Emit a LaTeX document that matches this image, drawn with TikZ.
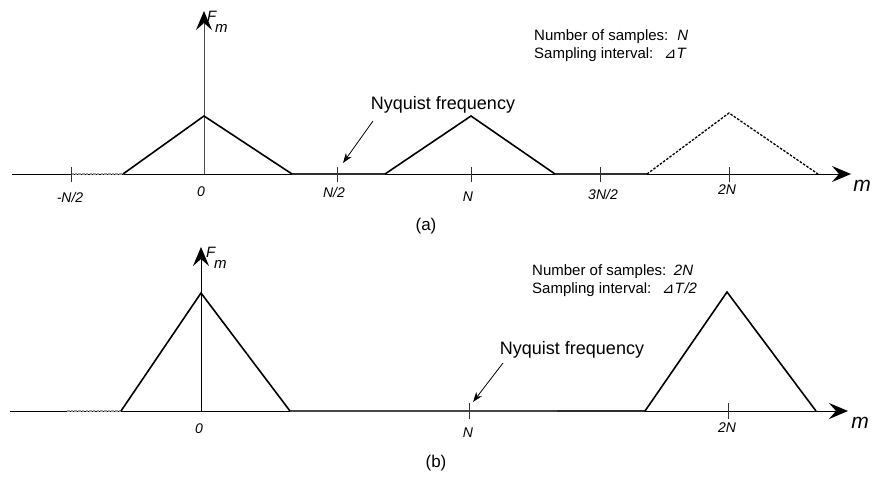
\documentclass[tikz,border=0pt]{standalone}
\usepackage{fontspec}
\setmainfont{Liberation Sans}
\newfontfamily\dvs{DejaVu Sans}
\usetikzlibrary{arrows.meta}
\newcommand{\dT}{{\dvs\itshape ⊿}\textit{T}}
\tikzset{
  bigtip/.style={-{Stealth[length=19pt,width=16pt,inset=7pt,color=black,fill=black]}},
  axisline/.style={line width=1pt, bigtip},
  vaxis/.style={line width=1pt, draw=black!70, bigtip},
  tri/.style={line width=1.6pt, line join=miter},
  dtri/.style={line width=1.3pt, dash pattern=on 2.5pt off 1.5pt},
  flatseg/.style={line width=2pt, draw=black!82},
  gdash/.style={line width=1.8pt, draw=black!40, dash pattern=on 2.5pt off 1.2pt},
  tickmark/.style={line width=1pt, draw=black!80},
  tlab/.style={font=\fontsize{14}{16}\selectfont\itshape, inner sep=0pt},
  infotxt/.style={font=\fontsize{15}{18}\selectfont, inner sep=0pt, align=left, anchor=north west},
  nyq/.style={font=\fontsize{18}{20}\selectfont, inner sep=0pt},
  captxt/.style={font=\fontsize{17}{20}\selectfont, inner sep=0pt},
  marr/.style={line width=0.8pt, -{Stealth[length=10pt,width=7pt]}},
  flab/.style={font=\fontsize{15}{16}\selectfont\itshape, anchor=west, inner sep=0pt},
  mlab/.style={font=\fontsize{21}{22}\selectfont\itshape, inner sep=0pt},
}
\begin{document}
\begin{tikzpicture}[x=1pt,y=-1pt]
\useasboundingbox (0,0) rectangle (872,490);
% ---------------- panel (a)
\coordinate (aL) at (12,174);
\coordinate (aR) at (851,174);
\coordinate (aO) at (204,174);
\coordinate (aT) at (204,11);
\draw[axisline] (aL) -- (aR);
\draw[gdash] (71,174) -- (123,174);
\draw[flatseg] (292,174) -- (385,174);
\draw[flatseg] (555,174) -- (647,174);
\draw[vaxis] (aO) -- (aT);
\node[flab] (aF) at (207,16) {F};
\node[flab] (aFm) at (215,28) {m};
\foreach \x in {71,337,471,600,729}{\draw[tickmark] (\x,167) -- (\x,182);}
\draw[tri] (123,174) -- (204,116) -- (292,174);
\draw[tri] (385,174) -- (471,116) -- (555,174);
\draw[dtri] (647,174) -- (729,113) -- (818,174);
\node[tlab] (lmh) at (70,197) {-N/2};
\node[tlab] (l0a) at (201,192) {0};
\node[tlab] (lh) at (334,192) {N/2};
\node[tlab] (lN) at (468,197) {N};
\node[tlab] (l3h) at (603,194) {3N/2};
\node[tlab] (l2N) at (727,190) {2N};
\node[mlab] (lm) at (862,186) {m};
\node[nyq] (nyqa) at (443,105) {Nyquist frequency};
\coordinate (nyqaS) at (373,121);
\coordinate (nyqaE) at (343,163);
\draw[marr] (nyqaS) -- (nyqaE);
\node[infotxt] (infoa) at (534,29) {Number of samples:\hspace{0.6em}\textit{N}\\Sampling interval:\hspace{0.7em}\dT};
\node[captxt] (capa) at (426,226) {(a)};
% ---------------- panel (b)
\coordinate (bL) at (10,411);
\coordinate (bR) at (848,411);
\coordinate (bO) at (201,411);
\coordinate (bT) at (201,247);
\draw[axisline] (bL) -- (bR);
\draw[gdash] (67,411) -- (121,411);
\draw[flatseg, draw=black!72] (290,411) -- (557,411);
\draw[flatseg] (557,411) -- (645,411);
\draw[axisline] (bO) -- (bT);
\node[flab] (bF) at (206,252) {F};
\node[flab] (bFm) at (214,264) {m};
\foreach \x in {469,728}{\draw[tickmark] (\x,403) -- (\x,419);}
\draw[tri] (121,411) -- (201,293) -- (290,411);
\draw[tri] (645,411) -- (727,292) -- (816,411);
\node[tlab] (l0b) at (199,429) {0};
\node[tlab] (lNb) at (468,433) {N};
\node[tlab] (l2Nb) at (727,428) {2N};
\node[mlab] (lmb) at (860,423) {m};
\node[nyq] (nyqb) at (572,350) {Nyquist frequency};
\coordinate (nyqbS) at (503,363);
\coordinate (nyqbE) at (473,402);
\draw[marr] (nyqbS) -- (nyqbE);
\node[infotxt] (infob) at (532,264) {Number of samples:\hspace{0.5em}\textit{2N}\\Sampling interval:\hspace{0.7em}\dT\textit{/2}};
\node[captxt] (capb) at (436,463) {(b)};
\end{tikzpicture}
\end{document}
